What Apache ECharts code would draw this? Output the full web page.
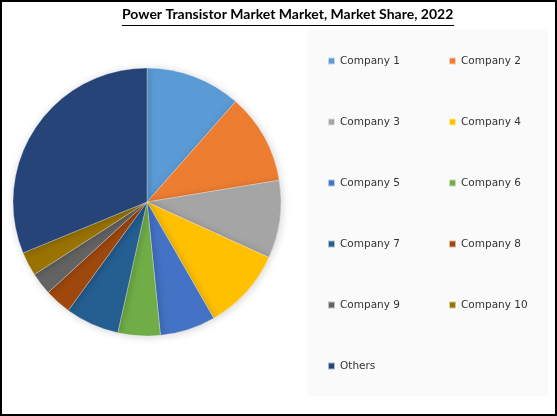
<!DOCTYPE html>
<html>
<head>
<meta charset="utf-8">
<script src="https://cdn.jsdelivr.net/npm/echarts@6/dist/echarts.min.js"></script>
<style>
  html, body { margin: 0; padding: 0; background: #fff; }
  #chart { width: 557px; height: 416px; }
</style>
</head>
<body>
<div id="chart"></div>
<script>
// data (share in %)
const companies = ['Company 1', 'Company 2', 'Company 3', 'Company 4', 'Company 5',
  'Company 6', 'Company 7', 'Company 8', 'Company 9', 'Company 10', 'Others'];
const shares = [11.5, 10.9, 9.4, 9.9, 6.7, 5.1, 6.5, 3.2, 2.7, 2.9, 31.2];
const colors = ['#5B9BD5', '#ED7D31', '#A5A5A5', '#FFC000', '#4472C4', '#70AD47',
  '#255E91', '#9E480E', '#636363', '#997300', '#264478'];

const chartDom = document.getElementById('chart');
const myChart = echarts.init(chartDom);

const legendText = { fontFamily: 'DejaVu Sans', fontSize: 10.5, color: '#333', lineHeight: 14 };

// two legend columns
const leftCol = companies.filter((c, i) => i % 2 === 0);
const rightCol = companies.filter((c, i) => i % 2 === 1);

const option = {
  animation: false,
  color: colors,
  title: {
    text: 'Power Transistor Market Market, Market Share, 2022',
    left: 122,
    top: 7,
    padding: 0,
    textStyle: { fontFamily: 'Lato', fontWeight: 'bold', fontSize: 14, color: '#000' }
  },
  graphic: [
    {
      type: 'rect', z: -10,
      shape: { x: 307, y: 30, width: 241, height: 366 },
      style: { fill: '#fafafa' }
    },
    {
      type: 'line', z: 10,
      shape: { x1: 122, y1: 25.5, x2: 454, y2: 25.5 },
      style: { stroke: '#000', lineWidth: 1 }
    },
    {
      type: 'rect', z: 100,
      shape: { x: 1, y: 1, width: 555, height: 414 },
      style: { fill: 'none', stroke: '#000', lineWidth: 2 }
    }
  ],
  legend: [
    {
      orient: 'vertical', left: 327, top: 54,
      itemWidth: 7, itemHeight: 7, itemGap: 47,
      icon: 'rect', data: leftCol, textStyle: legendText,
      padding: 0
    },
    {
      orient: 'vertical', left: 448, top: 54,
      itemWidth: 7, itemHeight: 7, itemGap: 47,
      icon: 'rect', data: rightCol, textStyle: legendText,
      padding: 0
    }
  ],
  series: [
    {
      type: 'pie',
      center: [147, 202],
      radius: 134,
      startAngle: 90,
      clockwise: true,
      label: { show: false },
      labelLine: { show: false },
      itemStyle: {
        borderColor: 'rgba(255,255,255,0.6)',
        borderWidth: 0.5,
        shadowBlur: 8,
        shadowColor: 'rgba(0,0,0,0.18)',
        shadowOffsetX: 1,
        shadowOffsetY: 1
      },
      emphasis: { disabled: true },
      data: companies.map((name, i) => ({ name, value: shares[i] }))
    }
  ]
};

myChart.setOption(option);
</script>
</body>
</html>
